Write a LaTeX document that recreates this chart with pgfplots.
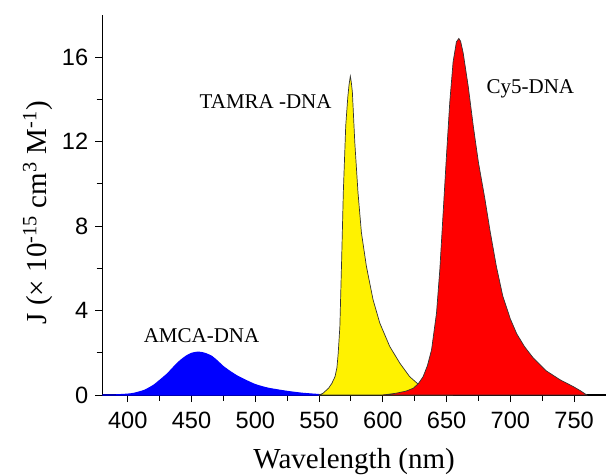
\documentclass[border=0pt]{standalone}
\usepackage{pgfplots}
\pgfplotsset{compat=1.18}
\usepackage{fontspec}
\setmainfont{Liberation Serif}
\newfontfamily\sansfont{Liberation Sans}
\begin{document}
\begin{tikzpicture}
\begin{axis}[
  name=ax,
  scale only axis,
  width=251.85pt, height=190pt,
  xmin=380, xmax=775, ymin=0, ymax=18,
  axis lines=left,
  axis line style={-, black, line width=0.6pt},
  x axis line style={-},
  y axis line style={-},
  xtick={400,450,...,750},
  minor xtick={425,475,...,725},
  ytick={0,4,8,12,16},
  minor ytick={2,6,10,14},
  tick align=outside,
  major tick length=3.5pt,
  minor tick length=2.8pt,
  tick style={black, line width=0.5pt},
  /pgf/number format/assume math mode=true,
  ticklabel style={font=\sansfont\fontsize{11.8}{12}\selectfont},
  xticklabel style={yshift=-1.5pt},
  clip=false,
  xlabel={Wavelength (nm)},
  ylabel={J (× 10\textsuperscript{-15} cm\textsuperscript{3} M\textsuperscript{-1})},
  every axis x label/.style={at={(axis description cs:0.5,0)}, anchor=base, yshift=-36.6pt, font=\fontsize{14.5}{16}\selectfont},
  every axis y label/.style={at={(axis description cs:-0.1099,0.48)}, rotate=90, anchor=base, font=\fontsize{14.5}{16}\selectfont},
]
% AMCA-DNA (blue)
\addplot[draw=blue, fill=blue, line width=0.6pt, smooth, tension=0.4] coordinates {
(380,0) (390,0.005) (400,0.04) (405,0.08) (413,0.22) (420,0.45) (425,0.69) (431,1.0)
(436.6,1.36) (441,1.62) (445.8,1.84) (450,1.97) (455,2.03) (460,1.98) (465.5,1.84)
(470,1.62) (474.6,1.36) (480,1.12) (486,0.89) (493,0.68) (500,0.49) (510,0.32)
(525,0.17) (537,0.08) (550,0.02)
} \closedcycle;
% TAMRA-DNA (yellow)
\addplot[draw=black!80, fill=yellow, line width=0.35pt] coordinates {
(550,0) (553,0.08) (557.4,0.32) (560,0.55) (562.5,0.87) (564,1.3) (565,1.98)
(566.3,3.25) (567.7,6.42) (569,9.6) (570.9,12.76) (572.5,14.1) (573.5,14.7) (574.5,15.1)
(575.3,14.8) (576.1,14.35) (578,11.97) (580.5,9.6) (583.2,7.69) (587.1,6.1) (592.3,4.52)
(597.6,3.41) (605.4,2.3) (613.3,1.51) (621,0.87) (627.6,0.52) (635,0.25) (645,0.08) (655,0)
} \closedcycle;
% Cy5-DNA (red)
\addplot[draw=black!80, fill=red, line width=0.35pt] coordinates {
(600,0) (610,0.08) (618,0.18) (623.9,0.32) (628,0.55) (631.6,0.87) (635,1.4)
(638.2,2.14) (642.1,3.89) (644.7,5.95) (647.3,8.64) (649.9,11.34) (652.5,13.88)
(655.1,15.78) (657.7,16.73) (659.6,16.89) (661,16.75) (663,16.2) (667,14.6)
(671,12.7) (675,11.0) (680,9.3) (684,7.8) (689,6.1) (694,4.7) (700,3.6)
(705,2.9) (711,2.3) (718,1.75) (728,1.15) (739,0.72) (749.3,0.4) (755,0.2) (760,0)
} \closedcycle;
\node[anchor=base, font=\fontsize{10.5}{12}\selectfont] at (axis cs:457.8,2.49) {AMCA-DNA};
\node[anchor=base, font=\fontsize{10.5}{12}\selectfont] at (axis cs:508.1,13.56) {TAMRA -DNA};
\node[anchor=base, font=\fontsize{10.5}{12}\selectfont] at (axis cs:715.7,14.27) {Cy5-DNA};
\end{axis}
\pgfresetboundingbox
\path ([xshift=-51.15pt,yshift=-40pt]ax.south west) rectangle ([xshift=1pt,yshift=7.5pt]ax.north east);
\end{tikzpicture}
\end{document}
